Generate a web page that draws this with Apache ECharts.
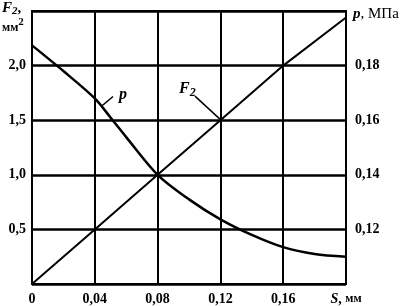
<!DOCTYPE html>
<html>
<head>
<meta charset="utf-8">
<script src="https://cdn.jsdelivr.net/npm/echarts@6/dist/echarts.min.js"></script>
<style>
  html, body { margin: 0; padding: 0; background: #fff; }
  #chart { width: 409px; height: 306px; }
</style>
</head>
<body>
<div id="chart"></div>
<script>
// S, мм
const sValues = [0, 0.02, 0.04, 0.05, 0.06, 0.08, 0.10, 0.12, 0.14, 0.16, 0.18, 0.20]
// p, МПа (right axis)
const pValues = [0.1874, 0.178, 0.168, 0.161, 0.1538, 0.14, 0.131, 0.1237, 0.118, 0.1135, 0.111, 0.110]
// F2, мм² (left axis)
const f2S = [0, 0.04, 0.08, 0.12, 0.16, 0.20]
const f2Values = [0, 0.5, 1.0, 1.5, 2.0, 2.44]

// leader lines for the curve labels
const pLeader = [[0.0446, 0.1653], [0.0516, 0.1687]]
const f2Leader = [[0.1038, 1.72], [0.1197, 1.51]]

const font = '"Liberation Serif", "DejaVu Serif", serif'
const comma = v => String(v).replace('.', ',')

const chart = echarts.init(document.getElementById('chart'))

const option = {
  animation: false,
  backgroundColor: '#fff',
  textStyle: { fontFamily: font, color: '#000' },
  grid: {
    left: 32, right: 63, top: 11, bottom: 22,
    show: true, borderColor: '#000', borderWidth: 2, containLabel: false
  },
  xAxis: {
    type: 'value', min: 0, max: 0.2, interval: 0.04,
    axisLine: { show: true, lineStyle: { color: '#000', width: 2 } },
    axisTick: { show: false },
    splitLine: { show: true, lineStyle: { color: '#000', width: 2 } },
    axisLabel: {
      margin: 8, fontSize: 14, fontWeight: 'bold', fontFamily: font, color: '#000',
      formatter: v => {
        if (v === 0) return '0'
        if (Math.abs(v - 0.2) < 1e-9) return '{i|S}, {s|мм}'
        return comma(v.toFixed(2))
      },
      rich: {
        i: { fontStyle: 'italic', fontSize: 14, fontWeight: 'bold', fontFamily: font },
        s: { fontSize: 12, fontWeight: 'bold', fontFamily: font }
      }
    }
  },
  yAxis: [
    {
      type: 'value', min: 0, max: 2.5, interval: 0.5, position: 'left',
      axisLine: { show: true, lineStyle: { color: '#000', width: 2 } },
      axisTick: { show: false },
      splitLine: { show: true, lineStyle: { color: '#000', width: 2.5 } },
      axisLabel: {
        margin: 6, fontSize: 14, fontWeight: 'bold', fontFamily: font, color: '#000',
        formatter: v => (v === 0 || v === 2.5) ? '' : comma(v.toFixed(1))
      }
    },
    {
      type: 'value', min: 0.10, max: 0.20, interval: 0.02, position: 'right',
      axisLine: { show: true, lineStyle: { color: '#000', width: 2 } },
      axisTick: { show: false },
      splitLine: { show: false },
      axisLabel: {
        margin: 9, fontSize: 14, fontWeight: 'bold', fontFamily: font, color: '#000',
        formatter: v => (Math.abs(v - 0.1) < 1e-9 || Math.abs(v - 0.2) < 1e-9) ? '' : comma(v.toFixed(2))
      }
    }
  ],
  series: [
    {
      name: 'F2', type: 'line', yAxisIndex: 0, symbol: 'none',
      lineStyle: { color: '#000', width: 2 },
      data: f2S.map((s, i) => [s, f2Values[i]])
    },
    {
      name: 'p', type: 'line', yAxisIndex: 1, symbol: 'none', smooth: 0.3,
      lineStyle: { color: '#000', width: 2.5 },
      data: sValues.map((s, i) => [s, pValues[i]])
    },
    {
      name: 'pLeader', type: 'line', yAxisIndex: 1, symbol: 'none',
      lineStyle: { color: '#000', width: 1.5 },
      data: pLeader,
      endLabel: {
        show: true, formatter: 'p', offset: [-2, -2],
        fontFamily: font, fontStyle: 'italic', fontWeight: 'bold', fontSize: 16, color: '#000'
      }
    },
    {
      name: 'f2Leader', type: 'line', yAxisIndex: 0, symbol: 'none',
      lineStyle: { color: '#000', width: 1.5 },
      data: f2Leader.slice().reverse(),
      endLabel: {
        show: true, formatter: '{f|F}{d|2}', offset: [-24, -7],
        rich: {
          f: { fontFamily: font, fontStyle: 'italic', fontWeight: 'bold', fontSize: 16, color: '#000' },
          d: { fontFamily: font, fontStyle: 'italic', fontWeight: 'bold', fontSize: 12, color: '#000', padding: [8, 0, 0, 0] }
        }
      }
    }
  ],
  graphic: [
    {
      type: 'text', left: 2, top: 1,
      style: {
        text: '{f|F}{d|2}{c|,}\n{u|мм}{e|2}',
        fill: '#000',
        rich: {
          f: { fontFamily: font, fontStyle: 'italic', fontWeight: 'bold', fontSize: 15 },
          d: { fontFamily: font, fontStyle: 'italic', fontWeight: 'bold', fontSize: 11, padding: [6, 0, 0, 0] },
          c: { fontFamily: font, fontWeight: 'bold', fontSize: 15 },
          u: { fontFamily: font, fontWeight: 'bold', fontSize: 12, padding: [5, 0, 0, 0] },
          e: { fontFamily: font, fontWeight: 'bold', fontSize: 11, padding: [0, 0, 6, 0] }
        }
      }
    },
    {
      type: 'text', left: 353, top: 7,
      style: {
        text: '{i|p}{c|, МПа}',
        fill: '#000',
        rich: {
          i: { fontFamily: font, fontStyle: 'italic', fontWeight: 'bold', fontSize: 15 },
          c: { fontFamily: font, fontSize: 15 }
        }
      }
    }
  ]
}

chart.setOption(option)
</script>
</body>
</html>
